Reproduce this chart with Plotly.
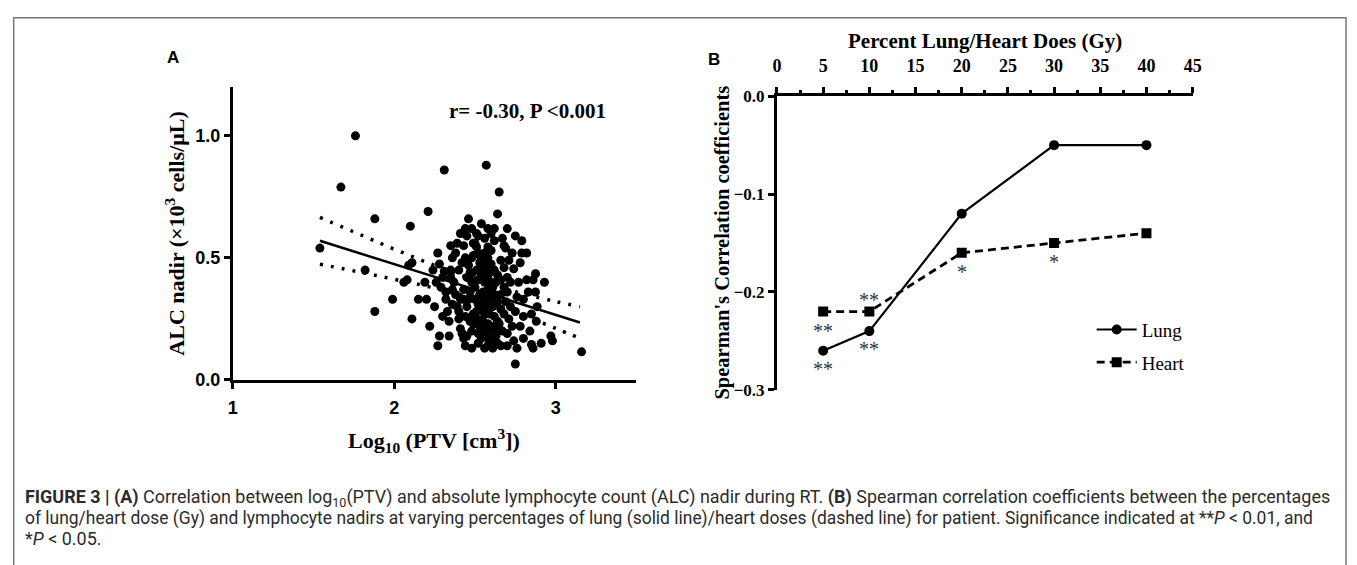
import plotly.graph_objects as go

W, H = 1357, 565
OFF = 8                      # browser body margin
FW, FH = W - OFF, H - OFF    # figure size so that it exactly fills the window

# ---------------- Panel A data ----------------
ptv_log = [
    1.54, 1.67, 1.76, 1.82, 1.88, 1.88, 1.99, 2.06, 2.08, 2.09, 2.11, 2.10, 2.11, 2.15, 2.19, 2.21, 2.22,
    2.27, 2.27, 2.28, 2.28, 2.29, 2.31, 2.31, 2.32, 2.32, 2.34, 2.35, 2.35, 2.36, 2.36, 2.36, 2.37, 2.40,
    2.40, 2.41, 2.42, 2.43, 2.43, 2.43, 2.43, 2.45, 2.45, 2.45, 2.45, 2.46, 2.46, 2.47, 2.48, 2.48, 2.49,
    2.49, 2.50, 2.51, 2.51, 2.51, 2.52, 2.53, 2.54, 2.54, 2.55, 2.56, 2.56, 2.57, 2.57, 2.58, 2.58, 2.60,
    2.60, 2.60, 2.61, 2.61, 2.62, 2.63, 2.64, 2.65, 2.66, 2.66, 2.66, 2.67, 2.68, 2.69, 2.70, 2.70, 2.71,
    2.72, 2.74, 2.75, 2.75, 2.75, 2.76, 2.76, 2.79, 2.79, 2.80, 2.80, 2.82, 2.83, 2.85, 2.85, 2.86, 2.86,
    2.875, 2.875, 2.885, 2.97, 2.98, 3.16,
    2.48, 2.50, 2.52, 2.54, 2.56, 2.58, 2.53, 2.55, 2.57, 2.59, 2.62, 2.64, 2.50, 2.52, 2.54, 2.57, 2.59,
    2.62, 2.64, 2.49, 2.51, 2.53, 2.55, 2.58, 2.61, 2.63, 2.65, 2.52, 2.55, 2.57, 2.59, 2.62, 2.64, 2.52,
    2.58, 2.61, 2.55, 2.57, 2.59, 2.62, 2.64, 2.63, 2.60, 2.47, 2.46, 2.44, 2.47, 2.48, 2.38, 2.39, 2.41,
    2.40, 2.42, 2.38, 2.39, 2.41, 2.44, 2.52, 2.54, 2.56, 2.58, 2.60, 2.53, 2.66, 2.68, 2.70, 2.72, 2.68,
    2.69, 2.71, 2.68, 2.73, 2.70, 2.67, 2.74, 2.78, 2.77, 2.78, 2.73, 2.34, 2.30, 2.33, 2.25, 2.30, 2.26,
    2.62, 2.56, 2.48, 2.60, 2.70, 2.66, 2.51, 2.49, 2.44, 2.88, 2.91, 2.93, 2.82, 2.84, 2.35, 2.20, 2.24,
    2.44, 2.48, 2.58, 2.80,
]
alc_nadir = [
    0.54, 0.79, 1.00, 0.45, 0.66, 0.28, 0.33, 0.40, 0.41, 0.47, 0.48, 0.63, 0.25, 0.33, 0.40, 0.69, 0.22,
    0.52, 0.14, 0.475, 0.18, 0.38, 0.86, 0.445, 0.36, 0.33, 0.18, 0.42, 0.45, 0.50, 0.37, 0.31, 0.40, 0.25,
    0.28, 0.21, 0.19, 0.55, 0.37, 0.33, 0.17, 0.59, 0.42, 0.30, 0.18, 0.66, 0.47, 0.44, 0.50, 0.435, 0.51,
    0.23, 0.56, 0.60, 0.545, 0.28, 0.59, 0.245, 0.64, 0.17, 0.32, 0.27, 0.13, 0.88, 0.21, 0.545, 0.42, 0.475,
    0.20, 0.145, 0.38, 0.30, 0.57, 0.18, 0.68, 0.77, 0.41, 0.29, 0.14, 0.58, 0.55, 0.54, 0.36, 0.14, 0.49,
    0.30, 0.455, 0.59, 0.28, 0.065, 0.34, 0.13, 0.57, 0.52, 0.26, 0.17, 0.41, 0.36, 0.27, 0.145, 0.41, 0.13,
    0.435, 0.36, 0.30, 0.18, 0.16, 0.115,
    0.40, 0.38, 0.41, 0.43, 0.40, 0.37, 0.35, 0.36, 0.34, 0.33, 0.35, 0.32, 0.33, 0.31, 0.29, 0.30, 0.27,
    0.26, 0.24, 0.27, 0.25, 0.22, 0.24, 0.23, 0.22, 0.21, 0.23, 0.19, 0.20, 0.18, 0.16, 0.17, 0.15, 0.15,
    0.14, 0.13, 0.45, 0.47, 0.44, 0.45, 0.43, 0.40, 0.40, 0.36, 0.33, 0.26, 0.24, 0.20, 0.35, 0.30, 0.33,
    0.45, 0.48, 0.52, 0.56, 0.60, 0.62, 0.52, 0.50, 0.52, 0.50, 0.53, 0.48, 0.49, 0.46, 0.42, 0.40, 0.38,
    0.32, 0.25, 0.27, 0.22, 0.19, 0.20, 0.16, 0.22, 0.40, 0.48, 0.52, 0.24, 0.26, 0.28, 0.30, 0.42, 0.40,
    0.62, 0.58, 0.62, 0.60, 0.62, 0.35, 0.45, 0.56, 0.50, 0.24, 0.15, 0.40, 0.52, 0.20, 0.55, 0.33, 0.45,
    0.14, 0.13, 0.62, 0.33,
]
fit_x = [1.54, 3.15]
fit_y = [0.57, 0.235]
ci_x = [1.54, 1.8, 2.0, 2.2, 2.4, 2.6, 2.8, 3.0, 3.15]
ci_upper = [0.666, 0.592, 0.536, 0.482, 0.432, 0.389, 0.352, 0.321, 0.300]
ci_lower = [0.474, 0.440, 0.412, 0.384, 0.350, 0.311, 0.264, 0.211, 0.170]
a_xticks = [1, 2, 3]
a_yticks = [0.0, 0.5, 1.0]

# ---------------- Panel B data ----------------
dose_pct = [5, 10, 20, 30, 40]
lung_r = [-0.26, -0.24, -0.12, -0.05, -0.05]
heart_r = [-0.22, -0.22, -0.16, -0.15, -0.14]
lung_sig = ["**", "**", "", "", ""]
heart_sig = ["**", "**", "*", "*", ""]
heart_sig_above = [False, True, False, False, False]
b_yticks = [0.0, -0.1, -0.2, -0.3]

SERIF = "Liberation Serif, Times New Roman, serif"
SANS = "Liberation Sans, Arial, sans-serif"


def px(x):
    return (x - OFF) / FW


def py(y):
    return 1 - (y - OFF) / FH


def note(x, y, text, font, xanchor="center", yanchor="middle", **kw):
    return dict(x=px(x), y=py(y), xref="paper", yref="paper", text=text, showarrow=False,
                xanchor=xanchor, yanchor=yanchor, font=font, **kw)


fig = go.Figure()

# Panel A
fig.add_trace(go.Scatter(x=ptv_log, y=alc_nadir, mode="markers",
                         marker=dict(color="black", size=9), xaxis="x", yaxis="y", showlegend=False))
fig.add_trace(go.Scatter(x=fit_x, y=fit_y, mode="lines", line=dict(color="black", width=2.5),
                         xaxis="x", yaxis="y", showlegend=False))
for band in (ci_upper, ci_lower):
    fig.add_trace(go.Scatter(x=ci_x, y=band, mode="lines",
                             line=dict(color="black", width=3.5, dash="3px,8px", shape="spline"),
                             xaxis="x", yaxis="y", showlegend=False))

# Panel B
fig.add_trace(go.Scatter(x=dose_pct, y=lung_r, mode="lines+markers", name="Lung", legendgroup="lung",
                         line=dict(color="black", width=2.2), marker=dict(symbol="circle", size=10, color="black"),
                         xaxis="x2", yaxis="y2"))
fig.add_trace(go.Scatter(x=dose_pct, y=heart_r, mode="lines+markers", name="Heart", legendgroup="heart",
                         line=dict(color="black", width=2.8, dash="8px,5px"),
                         marker=dict(symbol="square", size=10, color="black"),
                         xaxis="x2", yaxis="y2"))

star_font = dict(family=SERIF, size=20, color="#333")
annotations = []
for xv, yv, s in zip(dose_pct, lung_r, lung_sig):
    if s:
        annotations.append(dict(x=xv, y=yv, xref="x2", yref="y2", text=s, showarrow=False,
                                xanchor="center", yanchor="middle", yshift=-18, font=star_font))
for xv, yv, s, above in zip(dose_pct, heart_r, heart_sig, heart_sig_above):
    if s:
        annotations.append(dict(x=xv, y=yv, xref="x2", yref="y2", text=s, showarrow=False,
                                xanchor="center", yanchor="middle", yshift=12 if above else -19,
                                font=star_font))

annotations += [
    note(170, 50, "<b>A</b>", dict(family=SANS, size=17, color="black")),
    note(716, 52, "<b>B</b>", dict(family=SANS, size=17, color="black")),
    note(447, 105, "<b>r= -0.30, P &lt;0.001</b>", dict(family=SERIF, size=21, color="black"),
         xanchor="left"),
    note(172, 232, "<b>ALC nadir (×10<sup>3</sup> cells/μL)</b>", dict(family=SERIF, size=22, color="black"),
         textangle=-90),
    note(433, 446, "<b>Log<sub>10</sub> (PTV [cm<sup>3</sup>])</b>", dict(family=SERIF, size=22, color="black")),
    note(990, 33, "<b>Percent Lung/Heart Does (Gy)</b>", dict(family=SERIF, size=21, color="black")),
    note(724, 242, "<b>Spearman's Correlation coefficients</b>", dict(family=SERIF, size=20.5, color="black"),
         textangle=-90),
]

caption = [
    "<b>FIGURE 3 | (A)</b> Correlation between log<sub>10</sub>(PTV) and absolute lymphocyte count (ALC) nadir during RT. "
    "<b>(B)</b> Spearman correlation coefficients between the percentages",
    "of lung/heart dose (Gy) and lymphocyte nadirs at varying percentages of lung (solid line)/heart doses "
    "(dashed line) for patient. Significance indicated at **<i>P</i> &lt; 0.01, and",
    "*<i>P</i> &lt; 0.05.",
]
cap_sizes = [17.95, 17.45, 17.95]
cap_y = [506, 527, 548]
for i, line in enumerate(caption):
    annotations.append(note(18, cap_y[i], line,
                            dict(family="Roboto, Arial, sans-serif", size=cap_sizes[i], color="#2b2b2b"),
                            xanchor="left"))

axis_common = dict(showgrid=False, zeroline=False, showline=True, linecolor="black", ticks="outside",
                   tickcolor="black")
sans_tick = dict(family=SANS, size=18, color="black", weight="bold")
serif_tick = dict(family=SERIF, size=17, color="black", weight="bold")

fig.update_layout(
    width=FW, height=FH, margin=dict(l=0, r=0, t=0, b=0),
    paper_bgcolor="white", plot_bgcolor="white",
    xaxis=dict(domain=[px(230), px(638)], range=[1, 3.5], tickvals=a_xticks, anchor="y",
               linewidth=2.5, tickwidth=2.5, ticklen=6, ticklabelstandoff=4,
               tickfont=sans_tick, **axis_common),
    yaxis=dict(domain=[py(383.7), py(80.5)], range=[0, 1.2], tickvals=a_yticks, tickformat=".1f", anchor="x",
               linewidth=2.5, tickwidth=2.5, ticklen=6,
               tickfont=sans_tick, **axis_common),
    xaxis2=dict(domain=[px(780), px(1200)], range=[0, 45], dtick=5, tick0=0, side="top", anchor="y2",
                linewidth=3, tickwidth=2.5, ticklen=6, ticklabelstandoff=8,
                minor=dict(dtick=2.5, ticks="outside", ticklen=3, tickwidth=2.5, tickcolor="black"),
                tickfont=dict(family=SERIF, size=18, color="black", weight="bold"), **axis_common),
    yaxis2=dict(domain=[py(394), py(90)], range=[-0.3, 0], tickvals=b_yticks, tickformat=".1f", anchor="x2",
                linewidth=3, tickwidth=2.5, ticklen=6,
                tickfont=serif_tick, **axis_common),
    legend=dict(x=px(1098), y=py(312), xanchor="left", yanchor="top", bgcolor="rgba(0,0,0,0)",
                font=dict(family=SERIF, size=19, color="black"), tracegroupgap=5, itemwidth=40),
    annotations=annotations,
    shapes=[dict(type="rect", xref="paper", yref="paper", x0=px(8.7), x1=px(1355), y0=-0.05, y1=py(8.7),
                 line=dict(color="#777", width=1.5))],
)

fig.write_html("out.html")
